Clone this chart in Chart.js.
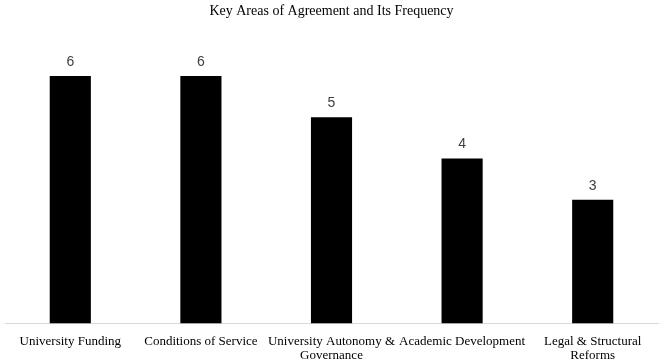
<!DOCTYPE html>
<html>
<head>
<meta charset="utf-8">
<script src="https://cdn.jsdelivr.net/npm/chart.js@4"></script>
<style>
  html, body { margin: 0; padding: 0; background: #fff; }
  #wrap { width: 672px; height: 361px; }
</style>
</head>
<body>
<div id="wrap"><canvas id="myBarChart"></canvas></div>
<script>
// categories (multi-line labels as in the picture)
var categories = [
  'University Funding',
  'Conditions of Service',
  ['University Autonomy &', 'Governance'],
  'Academic Development',
  ['Legal & Structural', 'Reforms']
];
// frequency
var frequency = [6, 6, 5, 4, 3];

// value labels above bars
var valueLabels = {
  id: 'valueLabels',
  afterDatasetsDraw: function (chart) {
    var c = chart.ctx;
    var meta = chart.getDatasetMeta(0);
    c.save();
    c.font = '14px "Liberation Sans", Arial, sans-serif';
    c.fillStyle = '#404040';
    c.textAlign = 'center';
    c.textBaseline = 'middle';
    meta.data.forEach(function (bar, i) {
      c.fillText(String(chart.data.datasets[0].data[i]), bar.x, bar.y - 14);
    });
    c.restore();
  }
};

var ctx = document.getElementById('myBarChart');
var myBarChart = new Chart(ctx, {
  type: 'bar',
  data: {
    labels: categories,
    datasets: [{
      label: 'Frequency',
      data: frequency,
      backgroundColor: '#000000',
      barPercentage: 1,
      categoryPercentage: 0.315
    }]
  },
  options: {
    responsive: true,
    maintainAspectRatio: false,
    animation: false,
    layout: { padding: { left: 5, right: 14, top: 0, bottom: -5 } },
    plugins: {
      legend: { display: false },
      tooltip: { enabled: false },
      title: {
        display: true,
        text: 'Key Areas of Agreement and Its Frequency',
        color: '#000',
        font: { family: '"Liberation Serif", "Times New Roman", serif', size: 14, weight: 'normal' },
        padding: { top: 3, bottom: 15 }
      }
    },
    scales: {
      x: {
        grid: { display: false },
        border: { display: true, color: '#d9d9d9', width: 1 },
        ticks: {
          color: '#000',
          maxRotation: 0,
          autoSkip: false,
          padding: 3,
          font: { family: '"Liberation Serif", "Times New Roman", serif', size: 13, lineHeight: 1.1 }
        }
      },
      y: {
        display: false,
        min: 0,
        max: 7
      }
    }
  },
  plugins: [valueLabels]
});
</script>
</body>
</html>
